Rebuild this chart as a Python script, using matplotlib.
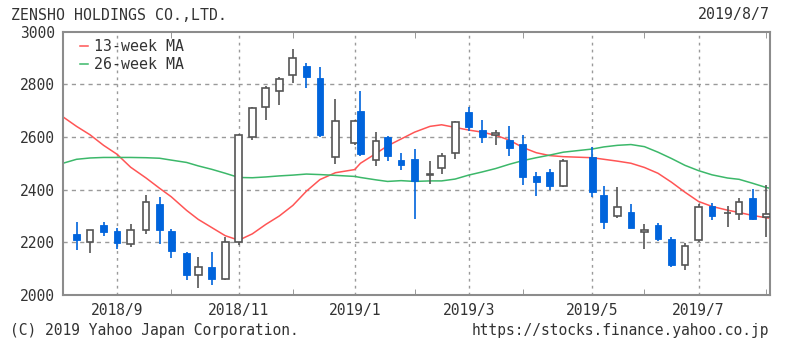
import matplotlib
matplotlib.use("Agg")
import matplotlib.pyplot as plt
import matplotlib.dates as mdates
import pandas as pd

# weekly candles (first trading day of each week)
dates = ["2018-08-13", "2018-08-20", "2018-08-27", "2018-09-03", "2018-09-10", "2018-09-18",
         "2018-09-25", "2018-10-01", "2018-10-09", "2018-10-15", "2018-10-22", "2018-10-29",
         "2018-11-05", "2018-11-12", "2018-11-19", "2018-11-26", "2018-12-03", "2018-12-10",
         "2018-12-17", "2018-12-25", "2019-01-04", "2019-01-07", "2019-01-15", "2019-01-21",
         "2019-01-28", "2019-02-04", "2019-02-12", "2019-02-18", "2019-02-25", "2019-03-04",
         "2019-03-11", "2019-03-18", "2019-03-25", "2019-04-01", "2019-04-08", "2019-04-15",
         "2019-04-22", "2019-05-07", "2019-05-13", "2019-05-20", "2019-05-27", "2019-06-03",
         "2019-06-10", "2019-06-17", "2019-06-24", "2019-07-01", "2019-07-08", "2019-07-16",
         "2019-07-22", "2019-07-29", "2019-08-05"]
opens = [2232, 2203, 2266, 2243, 2195, 2247, 2344, 2243, 2160, 2075, 2106, 2060, 2200, 2600,
         2712, 2775, 2834, 2870, 2822, 2525, 2575, 2697, 2512, 2600, 2512, 2518, 2455, 2481,
         2540, 2695, 2626, 2606, 2589, 2574, 2452, 2465, 2414, 2524, 2378, 2300, 2315, 2240,
         2264, 2214, 2112, 2210, 2338, 2311, 2306, 2367, 2297]
highs = [2278, 2248, 2278, 2253, 2270, 2380, 2373, 2251, 2162, 2144, 2162, 2219, 2610, 2715,
         2794, 2827, 2932, 2881, 2866, 2745, 2665, 2775, 2619, 2602, 2540, 2555, 2508, 2540,
         2660, 2715, 2664, 2627, 2643, 2609, 2465, 2477, 2516, 2560, 2414, 2408, 2344, 2270,
         2274, 2220, 2197, 2344, 2350, 2338, 2369, 2404, 2417]
lows = [2172, 2160, 2223, 2175, 2184, 2233, 2194, 2142, 2056, 2025, 2037, 2058, 2190, 2587,
        2665, 2722, 2805, 2787, 2600, 2497, 2570, 2527, 2491, 2509, 2475, 2290, 2420, 2460,
        2518, 2624, 2576, 2570, 2526, 2419, 2376, 2397, 2408, 2373, 2249, 2293, 2253, 2175,
        2204, 2108, 2093, 2200, 2283, 2259, 2283, 2283, 2220]
closes = [2210, 2248, 2240, 2197, 2247, 2354, 2246, 2166, 2075, 2106, 2060, 2202, 2606, 2710,
          2785, 2821, 2900, 2828, 2606, 2659, 2660, 2537, 2584, 2528, 2492, 2431, 2458, 2527,
          2657, 2636, 2599, 2614, 2559, 2447, 2430, 2414, 2509, 2392, 2277, 2335, 2255, 2246,
          2213, 2115, 2187, 2335, 2299, 2313, 2354, 2290, 2308]

# moving averages (chart edge + candle dates + chart edge)
ma_dates = ["2018-08-06"] + dates + ["2019-08-07"]
ma13 = [2676, 2640, 2608, 2568, 2534, 2485, 2444, 2405, 2373, 2321, 2287, 2256, 2225, 2208,
        2232, 2268, 2300, 2340, 2394, 2438, 2464, 2476, 2500, 2537, 2566, 2592, 2618, 2640,
        2646, 2636, 2626, 2618, 2606, 2588, 2560, 2540, 2529, 2525, 2521, 2515, 2508, 2500,
        2484, 2462, 2428, 2390, 2355, 2336, 2322, 2313, 2302, 2293, 2291]
ma26 = [2500, 2515, 2520, 2522, 2522, 2522, 2521, 2519, 2512, 2503, 2490, 2477, 2462, 2446,
        2445, 2448, 2452, 2455, 2459, 2457, 2454, 2450, 2446, 2437, 2431, 2434, 2431, 2433,
        2433, 2440, 2455, 2467, 2480, 2496, 2510, 2521, 2531, 2542, 2554, 2562, 2568, 2571,
        2563, 2542, 2518, 2492, 2472, 2456, 2444, 2439, 2424, 2408, 2405]

major_ticks = ["2018-09-03", "2018-11-05", "2019-01-04", "2019-03-04", "2019-05-07", "2019-07-01"]
major_labels = ["2018/9", "2018/11", "2019/1", "2019/3", "2019/5", "2019/7"]
minor_ticks = ["2018-10-01", "2018-12-03", "2019-02-04", "2019-04-01", "2019-06-03", "2019-08-05"]

FONT = "DejaVu Sans Mono"
TXT = "#333333"
BLUE = "#0064dc"
EDGE = "#555555"

W, H = 788, 349
fig = plt.figure(figsize=(W / 100, H / 100), dpi=100)
ax = fig.add_axes([63 / W, (H - 295) / H, (770 - 63) / W, (295 - 31.5) / H])

x = mdates.date2num(pd.to_datetime(dates))
xm = mdates.date2num(pd.to_datetime(ma_dates))

# grid
for v in [2200, 2400, 2600, 2800]:
    ax.axhline(v, color="#9a9a9a", lw=1, ls=(0, (3, 3)), zorder=1)
for d in major_ticks:
    ax.axvline(mdates.date2num(pd.Timestamp(d)), color="#9a9a9a", lw=1, ls=(0, (2, 3)), zorder=1)

ax.plot(xm, ma13, color="#ff5555", lw=1.1, zorder=2, label="13-week MA")
ax.plot(xm, ma26, color="#3cb86a", lw=1.1, zorder=2, label="26-week MA")

for xi, o, h, l, c in zip(x, opens, highs, lows, closes):
    up = c >= o
    col = EDGE if up else BLUE
    ax.vlines(xi, l, h, color=col, lw=1.2, zorder=3)
    ax.bar(xi, max(abs(c - o), 1), bottom=min(o, c), width=3.5,
           color="white" if up else BLUE, edgecolor=col, lw=1.2 if up else 0.6, zorder=4)

ax.set_xlim(mdates.date2num(pd.Timestamp("2018-08-06")), mdates.date2num(pd.Timestamp("2019-08-07")))
ax.set_ylim(2000, 3000)
ax.set_yticks([2000, 2200, 2400, 2600, 2800, 3000])
ax.set_xticks(mdates.date2num(pd.to_datetime(major_ticks)))
ax.set_xticklabels(major_labels)
ax.set_xticks(mdates.date2num(pd.to_datetime(minor_ticks + major_ticks)), minor=True)
ax.tick_params(axis="both", which="major", length=0, labelsize=10.5, labelcolor=TXT)
ax.tick_params(axis="x", which="major", pad=5.5)
ax.tick_params(axis="y", which="major", pad=6)
ax.tick_params(axis="x", which="minor", direction="in", length=4, color="#888888",
               top=True, bottom=True)
for lab in ax.get_xticklabels() + ax.get_yticklabels():
    lab.set_family(FONT)
for s in ax.spines.values():
    s.set_color("#8c8c8c")
    s.set_linewidth(1.5)

leg = ax.legend(loc="upper left", bbox_to_anchor=(0.014, 1.0), frameon=False,
                handlelength=0.5, handletextpad=0.4, labelspacing=0.22, borderpad=0,
                prop={"family": FONT, "size": 10.7})
for t in leg.get_texts():
    t.set_color(TXT)

fig.text(11 / W, 1 - 15 / H, "ZENSHO HOLDINGS CO.,LTD.", family=FONT, size=10.7,
         color=TXT, va="center", ha="left")
fig.text(770 / W, 1 - 15 / H, "2019/8/7", family=FONT, size=10.7, color=TXT,
         va="center", ha="right")
fig.text(10 / W, 1 - 330 / H, "(C) 2019 Yahoo Japan Corporation.", family=FONT, size=10.5,
         color=TXT, va="center", ha="left")
fig.text(769 / W, 1 - 330 / H, "https://stocks.finance.yahoo.co.jp", family=FONT, size=10.5,
         color=TXT, va="center", ha="right")

fig.savefig("out.png", dpi=100)
plt.close(fig)
